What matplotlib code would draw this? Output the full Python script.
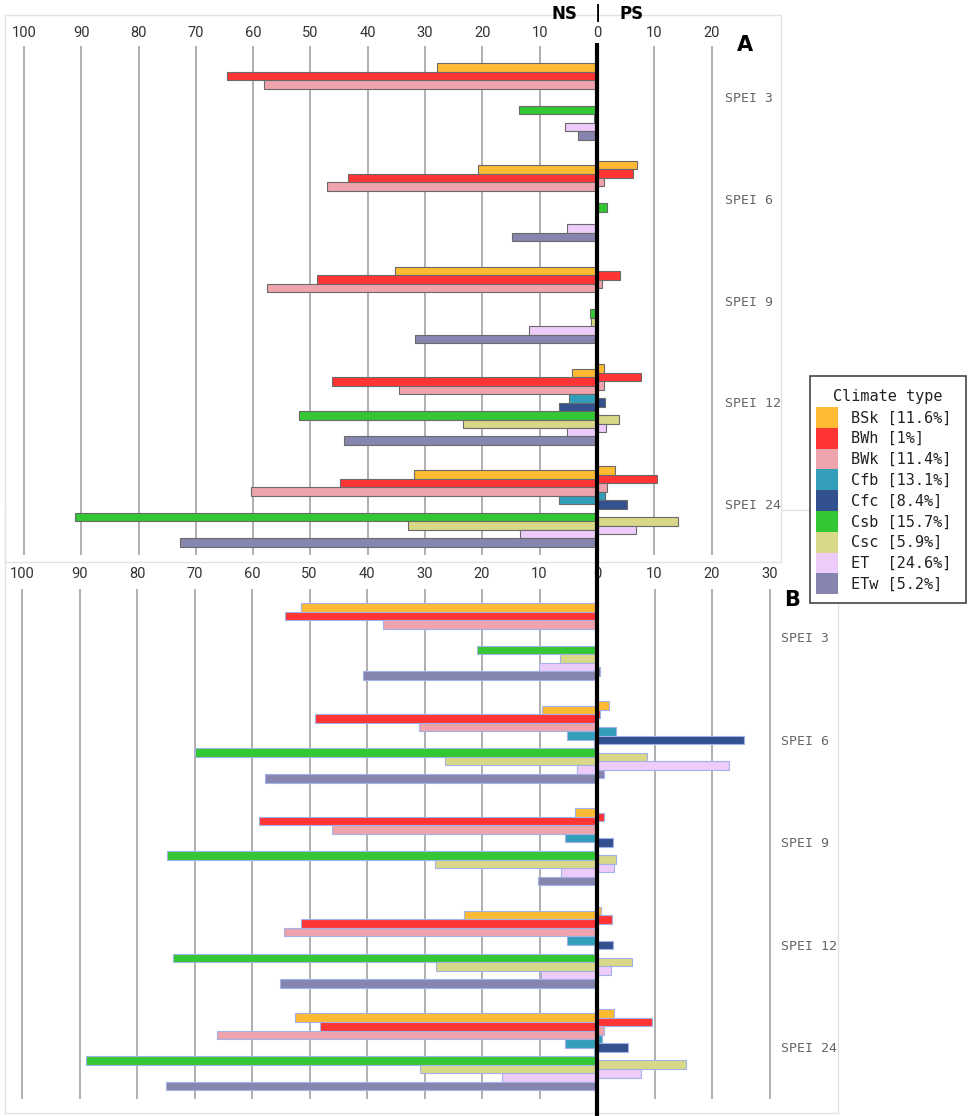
import numpy as np
import matplotlib
matplotlib.use('Agg')
import matplotlib.pyplot as plt
from matplotlib.patches import Rectangle

W, H = 969, 1116

climate = ['BSk', 'BWh', 'BWk', 'Cfb', 'Cfc', 'Csb', 'Csc', 'ET', 'ETw']
share = ['11.6%', '1%', '11.4%', '13.1%', '8.4%', '15.7%', '5.9%', '24.6%', '5.2%']
colors = ['#FFBA33', '#FF3535', '#EFA3AC', '#339EBA', '#33508F', '#33C833', '#D8D888', '#EDCBFB', '#8585B0']
spei = ['SPEI 3', 'SPEI 6', 'SPEI 9', 'SPEI 12', 'SPEI 24']

# panel A: negative (NS) and positive (PS) share, rows = SPEI, cols = climate type
a_ns = [[-27.9, -64.6, -58.2, 0, 0, -13.6, -0.6, -5.6, -3.3],
        [-20.7, -43.5, -47.2, 0, 0, 0, 0, -5.3, -14.8],
        [-35.2, -48.8, -57.6, 0, 0, -1.2, -1.0, -11.8, -31.8],
        [-4.3, -46.3, -34.6, -4.9, -6.7, -52.0, -23.4, -5.3, -44.1],
        [-32.0, -44.8, -60.4, -6.7, 0, -91.1, -32.9, -13.4, -72.8]]
a_ps = [[0, 0, 0, 0, 0, 0, 0, 0, 0],
        [6.9, 6.2, 1.2, 0, 0, 1.8, 0, 0, 0],
        [0, 4.0, 0.9, 0, 0, 0, 0, 0, 0],
        [1.2, 7.6, 1.2, 0, 1.4, 0, 3.8, 1.6, 0],
        [3.2, 10.4, 1.8, 1.4, 5.3, 0, 14.2, 6.8, 0]]

# panel B
b_ns = [[-51.4, -54.3, -37.2, 0, 0, -20.8, -6.5, -10.1, -40.7],
        [-9.5, -49.0, -31.0, -5.3, -0.5, -69.9, -26.4, -3.4, -57.8],
        [-3.9, -58.8, -46.1, -5.5, -0.5, -74.7, -28.1, -6.2, -10.3],
        [-23.2, -51.5, -54.5, -5.3, -0.5, -73.8, -28.0, -9.7, -55.1],
        [-52.6, -48.1, -66.1, -5.6, -0.5, -88.9, -30.7, -16.6, -75.0]]
b_ps = [[0, 0, 0, 0, 0, 0, 0, 0, 0.5],
        [2.0, 0.5, 0, 3.3, 25.6, 0, 8.7, 22.9, 1.3],
        [0, 1.3, 0, 0, 2.7, 0, 3.3, 3.0, 0],
        [0.7, 2.6, 0, 0, 2.8, 0, 6.0, 2.5, 0],
        [2.9, 9.6, 1.2, 0.9, 5.4, 0, 15.4, 7.6, 0]]

a_ticks = list(range(-100, 21, 10))
b_ticks = list(range(-100, 31, 10))

num_font = ['Liberation Sans Narrow', 'Roboto', 'DejaVu Sans']
mono = 'DejaVu Sans Mono'

fig = plt.figure(figsize=(W / 100, H / 100), dpi=100)


def panel(box, zero_px, unit_px, first_px, slot_px, ticks, grid_px, label_px,
          spei_x, ns, ps, edge, z):
    l, t, r, b = box
    ax = fig.add_axes([l / W, 1 - b / H, (r - l) / W, (b - t) / H], zorder=z)
    ax.set_xlim((l - zero_px) / unit_px, (r - zero_px) / unit_px)
    ax.set_ylim((b - first_px) / slot_px, (t - first_px) / slot_px)
    ax.set_xticks([])
    ax.set_yticks([])
    for s in ax.spines.values():
        s.set_color('#e2e2e2')
        s.set_linewidth(1.0)

    g0 = (grid_px[0] - first_px) / slot_px
    g1 = (grid_px[1] - first_px) / slot_px
    ax.vlines(ticks, g0, g1, color='#9a9a9a', lw=1.1, zorder=1)
    ly = (label_px - first_px) / slot_px
    for tk in ticks:
        ax.text(tk, ly, str(abs(tk)), ha='center', va='center', fontsize=10.5,
                color='#333333', family=num_font)

    ns = np.array(ns)
    ps = np.array(ps)
    for g in range(len(spei)):
        base = g * 12 + np.arange(len(climate))
        for i in range(len(climate)):
            if ns[g, i] != 0:
                ax.barh(base[i], ns[g, i], height=1.0, color=colors[i],
                        edgecolor=edge, linewidth=0.8, zorder=3)
            if ps[g, i] != 0:
                ax.barh(base[i] - 0.5, ps[g, i], height=1.0, color=colors[i],
                        edgecolor=edge, linewidth=0.8, zorder=3)
        ax.text(spei_x, g * 12 + 3.65, spei[g], ha='left', va='center',
                fontsize=9.5, color='#666666', family=mono)
    return ax


# B frame lies behind A
axb = panel((5, 510, 838, 1113), 597, 5.75, 607.3, 8.55, b_ticks, (589, 1099), 574,
            32.0, b_ns, b_ps, '#a3b2e6', 1)
axa = panel((5, 15, 781, 562), 597, 5.73, 67.6, 8.48, a_ticks, (46, 555), 33,
            22.3, a_ns, a_ps, '#6a6a6a', 2)
axa.set_facecolor('white')

# overlay in pixel coordinates for labels, zero line and legend
ov = fig.add_axes([0, 0, 1, 1], zorder=5)
ov.set_xlim(0, W)
ov.set_ylim(H, 0)
ov.axis('off')
ov.patch.set_alpha(0)

ov.plot([597.5, 597.5], [43, H], color='black', lw=3.0, solid_capstyle='butt')
ov.text(564, 14, 'NS', ha='center', va='center', fontsize=12, fontweight='bold')
ov.text(598, 13, '|', ha='center', va='center', fontsize=12, fontweight='bold')
ov.text(632, 14, 'PS', ha='center', va='center', fontsize=12, fontweight='bold')
ov.text(745, 45, 'A', ha='center', va='center', fontsize=15, fontweight='bold')
ov.text(792, 600, 'B', ha='center', va='center', fontsize=15, fontweight='bold')

# legend
ov.add_patch(Rectangle((810, 376), 156, 227, facecolor='white', edgecolor='#444444',
                       lw=1.2, zorder=6))
ov.text(888, 397, 'Climate type', ha='center', va='center', fontsize=11,
        family=mono, color='#222222', zorder=7)
for i, name in enumerate(climate):
    y = 407 + i * 20.8
    ov.add_patch(Rectangle((816, y), 22, 20.8, facecolor=colors[i], edgecolor='none',
                           zorder=7))
    ov.text(851, y + 10.8, f'{name:<4}[{share[i]}]', ha='left', va='center',
            fontsize=11, family=mono, color='#222222', zorder=7)

fig.savefig('out.png', dpi=100)
